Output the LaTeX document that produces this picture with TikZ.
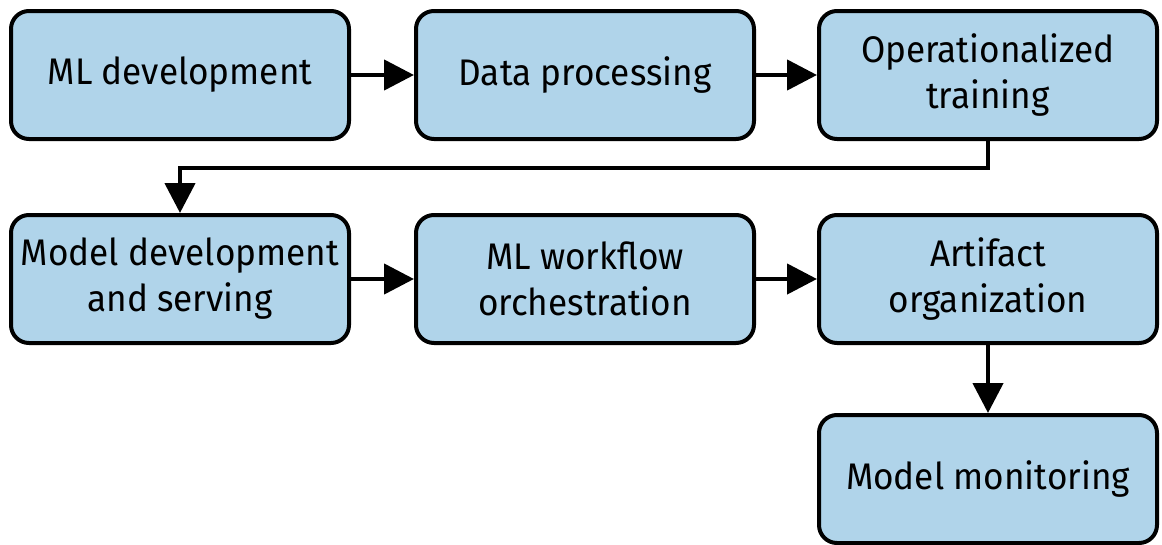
\documentclass[tikz,border=0pt]{standalone}
\usepackage{fontspec}
\setmainfont{Fira Sans}[FakeStretch=0.95]
\usetikzlibrary{arrows.meta}
\definecolor{boxfill}{RGB}{176,212,234}
\tikzset{
  stage/.style={draw=black, line width=4pt, fill=boxfill, rounded corners=18pt,
    minimum width=338pt, minimum height=128pt, align=center,
    font=\fontsize{37pt}{46pt}\selectfont, text=black, inner sep=0pt},
  flow/.style={line width=4.5pt, -{Triangle[length=30pt,width=30pt]}}
}
\begin{document}
\begin{tikzpicture}[x=1pt,y=-1pt]
  \useasboundingbox (0,0) rectangle (1162,544);
  \node[stage] (mldev) at (180,75) {ML development};
  \node[stage] (data) at (585,75) {Data processing};
  \node[stage] (optrain) at (988,75) {Operationalized\\training};
  \node[stage] (modeldev) at (180,279) {Model development\\and serving};
  \node[stage] (orch) at (585,279) {ML workflow\\orchestration};
  \node[stage] (artifact) at (988,279) {Artifact\\organization};
  \node[stage] (monitor) at (988,479) {Model monitoring};
  \draw[flow] (mldev) -- (data);
  \draw[flow] (data) -- (optrain);
  \draw[flow] (optrain.south) -- ++(0,27) -| (modeldev.north);
  \draw[flow] (modeldev) -- (orch);
  \draw[flow] (orch) -- (artifact);
  \draw[flow] (artifact) -- (monitor);
\end{tikzpicture}
\end{document}
